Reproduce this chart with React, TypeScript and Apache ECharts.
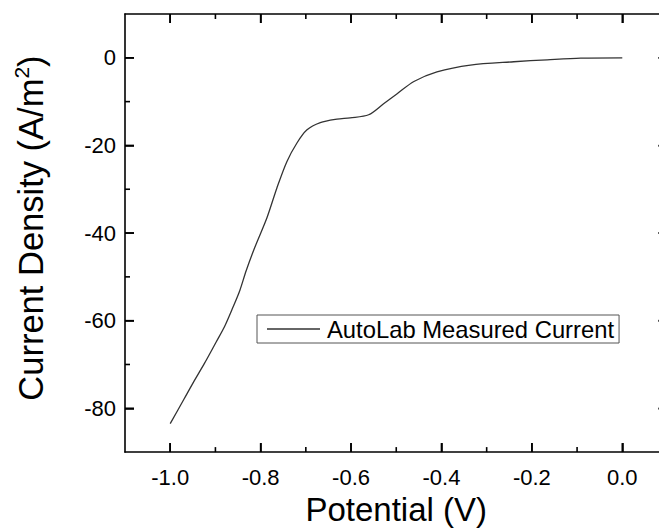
import React, { useEffect, useRef } from "react";
import * as echarts from "echarts";

const potential = [-1.0, -0.97, -0.95, -0.924, -0.898, -0.88, -0.861, -0.846, -0.832, -0.813, -0.786, -0.764, -0.742, -0.72, -0.698, -0.668, -0.631, -0.602, -0.561, -0.528, -0.498, -0.461, -0.41, -0.336, -0.24, -0.166, -0.092, 0.0];
const currentDensity = [-83.5, -78.0, -74.3, -69.7, -64.8, -61.4, -56.9, -53.1, -48.6, -43.3, -36.5, -29.7, -23.7, -19.5, -16.5, -14.8, -14.0, -13.7, -13.0, -10.5, -8.2, -5.4, -3.2, -1.65, -0.9, -0.45, -0.07, 0.0];

const xMajor = [-1.0, -0.8, -0.6, -0.4, -0.2, 0.0];
const xMinor = [-0.9, -0.7, -0.5, -0.3, -0.1];
const yMajor = [-80, -60, -40, -20, 0];
const yMinor = [-70, -50, -30, -10];

const X_MIN = -1.1;
const X_MAX = 0.1;
const Y_MIN = -90;
const Y_MAX = 10;

const seriesName = "AutoLab Measured Current";
const FONT = "'Liberation Sans', Arial, sans-serif";

export default function App() {
  const ref = useRef<HTMLDivElement>(null);
  useEffect(() => {
    if (!ref.current) return;
    const chart = echarts.init(ref.current, undefined, { renderer: "svg" });
    const axisLine = { show: true, onZero: false, lineStyle: { color: "#000", width: 1.6 } };
    const MAJOR = 9;
    const MINOR = 5;
    const majorTick = (vals: number[]) => ({ show: true, inside: true, length: MAJOR, customValues: vals, lineStyle: { color: "#000", width: 1.6 } });
    const xBase = { type: "value", min: X_MIN, max: X_MAX, splitLine: { show: false } };
    const yBase = { type: "value", min: Y_MIN, max: Y_MAX, splitLine: { show: false } };
    const tickLine = (x1: number, y1: number, x2: number, y2: number) => ({
      type: "line",
      shape: { x1, y1, x2, y2 },
      style: { stroke: "#000", lineWidth: 1.6, fill: null },
    });
    chart.setOption({
      animation: false,
      backgroundColor: "#fff",
      grid: { left: 125, top: 14, width: 542.5, height: 441.5, containLabel: false },
      legend: {
        left: 257,
        top: 315,
        data: [seriesName],
        icon: "rect",
        itemWidth: 53,
        itemHeight: 1.3,
        itemGap: 0,
        padding: [2, 5, 2, 10],
        borderColor: "#555",
        borderWidth: 1,
        itemStyle: { color: "#333" },
        textStyle: { fontFamily: FONT, fontSize: 23.8, color: "#000", lineHeight: 24, padding: [0, 0, 0, 2] },
      },
      xAxis: [
        {
          ...xBase,
          position: "bottom",
          axisLine,
          axisTick: majorTick(xMajor),
          axisLabel: { show: true, customValues: xMajor, margin: 14, fontFamily: FONT, fontSize: 22, color: "#000", formatter: (v: number) => v.toFixed(1) },
          name: "Potential (V)",
          nameLocation: "middle",
          nameGap: 35,
          nameTextStyle: { fontFamily: FONT, fontSize: 33, color: "#000" },
        },
        { ...xBase, position: "top", axisLine, axisTick: majorTick(xMajor), axisLabel: { show: false } },
      ],
      yAxis: [
        {
          ...yBase,
          position: "left",
          axisLine,
          axisTick: majorTick(yMajor),
          axisLabel: { show: true, customValues: yMajor, margin: 9, fontFamily: FONT, fontSize: 22, color: "#000" },
          name: "{t|Current Density (A/m}{s|2}{t|)}",
          nameLocation: "middle",
          nameGap: 74,
          nameTextStyle: {
            fontFamily: FONT,
            color: "#000",
            padding: [0, 0, 0, 10],
            rich: {
              t: { fontFamily: FONT, fontSize: 34.5, color: "#000", lineHeight: 40 },
              s: { fontFamily: FONT, fontSize: 21, color: "#000", verticalAlign: "top", lineHeight: 40 },
            },
          },
        },
        { ...yBase, position: "right", axisLine, axisTick: majorTick(yMajor), axisLabel: { show: false } },
      ],
      series: [
        {
          name: seriesName,
          type: "line",
          xAxisIndex: 0,
          yAxisIndex: 0,
          symbol: "none",
          smooth: 0.3,
          data: potential.map((x, i) => [x, currentDensity[i]]),
          lineStyle: { color: "#333", width: 1.3 },
          itemStyle: { color: "#333" },
          z: 3,
        },
        {
          name: "xTicks",
          type: "custom",
          coordinateSystem: "cartesian2d",
          xAxisIndex: 0,
          yAxisIndex: 0,
          silent: true,
          clip: false,
          z: 4,
          data: [...xMajor.map((v) => [v, -50, MAJOR]), ...xMinor.map((v) => [v, -50, MINOR])],
          renderItem: (params: any, api: any) => {
            const v = api.value(0);
            const len = api.value(2);
            const b = api.coord([v, Y_MIN]);
            const t = api.coord([v, Y_MAX]);
            return {
              type: "group",
              children: [tickLine(b[0], b[1], b[0], b[1] - len), tickLine(t[0], t[1], t[0], t[1] + len)],
            };
          },
        },
        {
          name: "yTicks",
          type: "custom",
          coordinateSystem: "cartesian2d",
          xAxisIndex: 0,
          yAxisIndex: 0,
          silent: true,
          clip: false,
          z: 4,
          data: [...yMajor.map((v) => [-0.5, v, MAJOR]), ...yMinor.map((v) => [-0.5, v, MINOR])],
          renderItem: (params: any, api: any) => {
            const v = api.value(1);
            const len = api.value(2);
            const l = api.coord([X_MIN, v]);
            const r = api.coord([X_MAX, v]);
            return {
              type: "group",
              children: [tickLine(l[0], l[1], l[0] + len, l[1]), tickLine(r[0], r[1], r[0] - len, r[1])],
            };
          },
        },
      ],
    });
    return () => chart.dispose();
  }, []);
  return (
    <div style={{ position: "fixed", left: 0, top: 0, width: 659, height: 531, overflow: "hidden", background: "#fff" }}>
      <div ref={ref} style={{ width: 690, height: 531 }} />
    </div>
  );
}
